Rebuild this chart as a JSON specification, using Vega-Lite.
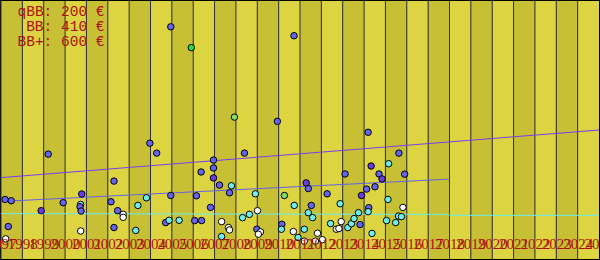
{
  "$schema": "https://vega.github.io/schema/vega-lite/v6.json",
  "width": 598,
  "height": 258,
  "padding": 1,
  "autosize": {"type": "none"},
  "background": "#000000",
  "config": {
    "view": {"stroke": null},
    "axisX": {"labelOverlap": false, "labelFlush": false, "labelBound": false, "ticks": false, "domain": false, "grid": false, "zindex": 1,
      "labelFont": "Liberation Serif", "labelFontSize": 15, "labelColor": "#aa1111", "labelBaseline": "alphabetic", "labelPadding": -11}
  },
  "datasets": {
    "bands": [
      {"start": 1997, "end": 1998, "shade": "a"}, {"start": 1998, "end": 1999, "shade": "b"},
      {"start": 1999, "end": 2000, "shade": "a"}, {"start": 2000, "end": 2001, "shade": "b"},
      {"start": 2001, "end": 2002, "shade": "a"}, {"start": 2002, "end": 2003, "shade": "b"},
      {"start": 2003, "end": 2004, "shade": "a"}, {"start": 2004, "end": 2005, "shade": "b"},
      {"start": 2005, "end": 2006, "shade": "a"}, {"start": 2006, "end": 2007, "shade": "b"},
      {"start": 2007, "end": 2008, "shade": "a"}, {"start": 2008, "end": 2009, "shade": "b"},
      {"start": 2009, "end": 2010, "shade": "a"}, {"start": 2010, "end": 2011, "shade": "b"},
      {"start": 2011, "end": 2012, "shade": "a"}, {"start": 2012, "end": 2013, "shade": "b"},
      {"start": 2013, "end": 2014, "shade": "a"}, {"start": 2014, "end": 2015, "shade": "b"},
      {"start": 2015, "end": 2016, "shade": "a"}, {"start": 2016, "end": 2017, "shade": "b"},
      {"start": 2017, "end": 2018, "shade": "a"}, {"start": 2018, "end": 2019, "shade": "b"},
      {"start": 2019, "end": 2020, "shade": "a"}, {"start": 2020, "end": 2021, "shade": "b"},
      {"start": 2021, "end": 2022, "shade": "a"}, {"start": 2022, "end": 2023, "shade": "b"},
      {"start": 2023, "end": 2024, "shade": "a"}, {"start": 2024, "end": 2025, "shade": "b"}
    ],
    "lines": [
      {"series": "qBB: 200 €", "seg": 1, "year": 1997, "value": 45.7},
      {"series": "qBB: 200 €", "seg": 1, "year": 2018, "value": 45},
      {"series": "qBB: 200 €", "seg": 2, "year": 2018, "value": 44},
      {"series": "qBB: 200 €", "seg": 2, "year": 2025, "value": 44},
      {"series": "BB: 410 €", "seg": 3, "year": 1997, "value": 58},
      {"series": "BB: 410 €", "seg": 3, "year": 2018, "value": 80.5},
      {"series": "BB+: 600 €", "seg": 4, "year": 1997, "value": 82},
      {"series": "BB+: 600 €", "seg": 4, "year": 2025, "value": 130}
    ],
    "points": [
      {"year": 2000.73, "value": 55, "cat": "C"},
      {"year": 2004.95, "value": 234, "cat": "A"},
      {"year": 2010.72, "value": 225, "cat": "A"},
      {"year": 2009.94, "value": 138.7, "cat": "A"},
      {"year": 2014.19, "value": 127.7, "cat": "A"},
      {"year": 2003.97, "value": 116.7, "cat": "A"},
      {"year": 2004.29, "value": 106.7, "cat": "A"},
      {"year": 1999.21, "value": 105.7, "cat": "A"},
      {"year": 2008.40, "value": 106.7, "cat": "A"},
      {"year": 2006.95, "value": 99.7, "cat": "A"},
      {"year": 2006.95, "value": 91.7, "cat": "A"},
      {"year": 2006.37, "value": 87.7, "cat": "A"},
      {"year": 2007.23, "value": 74.5, "cat": "A"},
      {"year": 2007.70, "value": 66.7, "cat": "A"},
      {"year": 2011.39, "value": 71, "cat": "A"},
      {"year": 2013.11, "value": 85.7, "cat": "A"},
      {"year": 2014.70, "value": 85.7, "cat": "A"},
      {"year": 2015.63, "value": 106.7, "cat": "A"},
      {"year": 2014.12, "value": 70.5, "cat": "A"},
      {"year": 2014.51, "value": 72.8, "cat": "A"},
      {"year": 2015.90, "value": 85.5, "cat": "A"},
      {"year": 2002.29, "value": 78.5, "cat": "A"},
      {"year": 1997.19, "value": 60, "cat": "A"},
      {"year": 1997.48, "value": 58.7, "cat": "A"},
      {"year": 1999.91, "value": 56.7, "cat": "A"},
      {"year": 2000.70, "value": 52.7, "cat": "A"},
      {"year": 2000.75, "value": 48.3, "cat": "A"},
      {"year": 1997.34, "value": 32.7, "cat": "A"},
      {"year": 2002.15, "value": 57.7, "cat": "A"},
      {"year": 2002.46, "value": 48.7, "cat": "A"},
      {"year": 2002.29, "value": 31.7, "cat": "A"},
      {"year": 2004.95, "value": 64, "cat": "A"},
      {"year": 2004.71, "value": 36.7, "cat": "A"},
      {"year": 2006.15, "value": 63.7, "cat": "A"},
      {"year": 2006.07, "value": 38.7, "cat": "A"},
      {"year": 2012.27, "value": 65.7, "cat": "A"},
      {"year": 2006.81, "value": 52, "cat": "A"},
      {"year": 2011.53, "value": 54, "cat": "A"},
      {"year": 2006.39, "value": 38.7, "cat": "A"},
      {"year": 2008.98, "value": 30, "cat": "A"},
      {"year": 2010.15, "value": 35, "cat": "A"},
      {"year": 2013.81, "value": 34.7, "cat": "A"},
      {"year": 2014.22, "value": 51.7, "cat": "A"},
      {"year": 2006.95, "value": 81.7, "cat": "B"},
      {"year": 2011.29, "value": 76.7, "cat": "B"},
      {"year": 2014.33, "value": 93.7, "cat": "B"},
      {"year": 2014.84, "value": 80.7, "cat": "B"},
      {"year": 1998.88, "value": 48.7, "cat": "B"},
      {"year": 2000.78, "value": 65.5, "cat": "B"},
      {"year": 2013.88, "value": 64, "cat": "B"},
      {"year": 2007.79, "value": 73.8, "cat": "C"},
      {"year": 2015.15, "value": 96, "cat": "C"},
      {"year": 2003.41, "value": 54, "cat": "C"},
      {"year": 2003.81, "value": 61.7, "cat": "C"},
      {"year": 2003.31, "value": 28.8, "cat": "C"},
      {"year": 2004.87, "value": 39, "cat": "C"},
      {"year": 2005.34, "value": 39, "cat": "C"},
      {"year": 2008.91, "value": 65.7, "cat": "C"},
      {"year": 2015.12, "value": 60, "cat": "C"},
      {"year": 2012.88, "value": 55.7, "cat": "C"},
      {"year": 2010.73, "value": 54, "cat": "C"},
      {"year": 2011.39, "value": 46.7, "cat": "C"},
      {"year": 2011.59, "value": 41.7, "cat": "C"},
      {"year": 2008.31, "value": 41.7, "cat": "C"},
      {"year": 2008.63, "value": 45, "cat": "C"},
      {"year": 2010.13, "value": 30, "cat": "C"},
      {"year": 2010.91, "value": 21.7, "cat": "C"},
      {"year": 2011.20, "value": 30, "cat": "C"},
      {"year": 2007.33, "value": 22.7, "cat": "C"},
      {"year": 2012.43, "value": 35.7, "cat": "C"},
      {"year": 2013.24, "value": 31.7, "cat": "C"},
      {"year": 2013.41, "value": 35.7, "cat": "C"},
      {"year": 2013.53, "value": 40.7, "cat": "C"},
      {"year": 2013.74, "value": 46.7, "cat": "C"},
      {"year": 2014.19, "value": 47.7, "cat": "C"},
      {"year": 2014.37, "value": 25.8, "cat": "C"},
      {"year": 2015.05, "value": 38.7, "cat": "C"},
      {"year": 2015.48, "value": 36.7, "cat": "C"},
      {"year": 2015.61, "value": 43.3, "cat": "C"},
      {"year": 2015.75, "value": 42.7, "cat": "C"},
      {"year": 1997.22, "value": 20.3, "cat": "D"},
      {"year": 2000.73, "value": 28.2, "cat": "D"},
      {"year": 2002.72, "value": 45, "cat": "D"},
      {"year": 2002.72, "value": 42, "cat": "D"},
      {"year": 2009.01, "value": 48.7, "cat": "D"},
      {"year": 2007.33, "value": 37.7, "cat": "D"},
      {"year": 2007.65, "value": 31.7, "cat": "D"},
      {"year": 2007.70, "value": 29.3, "cat": "D"},
      {"year": 2009.15, "value": 27.3, "cat": "D"},
      {"year": 2009.05, "value": 25, "cat": "D"},
      {"year": 2010.69, "value": 27.7, "cat": "D"},
      {"year": 2011.20, "value": 18, "cat": "D"},
      {"year": 2011.82, "value": 26, "cat": "D"},
      {"year": 2011.72, "value": 18, "cat": "D"},
      {"year": 2012.05, "value": 19.5, "cat": "D"},
      {"year": 2012.70, "value": 30, "cat": "D"},
      {"year": 2012.82, "value": 30.7, "cat": "D"},
      {"year": 2012.93, "value": 37.7, "cat": "D"},
      {"year": 2015.82, "value": 52, "cat": "D"},
      {"year": 2005.91, "value": 213, "cat": "E"},
      {"year": 2007.93, "value": 143, "cat": "F"},
      {"year": 2010.27, "value": 64, "cat": "F"}
    ]
  },
  "layer": [
    {
      "data": {"name": "bands"},
      "mark": {"type": "rect"},
      "encoding": {
        "x": {"field": "start", "type": "quantitative", "scale": {"domain": [1997, 2025], "nice": false, "zero": false},
          "axis": {"title": null, "format": "d", "labelOverlap": false, "zindex": 1, "values": [1997,1998,1999,2000,2001,2002,2003,2004,2005,2006,2007,2008,2009,2010,2011,2012,2013,2014,2015,2016,2017,2018,2019,2020,2021,2022,2023,2024,2025]}},
        "x2": {"field": "end"},
        "fill": {"field": "shade", "type": "nominal", "scale": {"domain": ["a", "b"], "range": ["#c8c034", "#dcd440"]}, "legend": null}
      }
    },
    {
      "data": {"name": "bands"},
      "mark": {"type": "rule", "color": "#30303c", "strokeWidth": 1},
      "encoding": {
        "x": {"field": "start", "type": "quantitative", "axis": {"title": null, "format": "d", "labelOverlap": false, "zindex": 1, "values": [1997,1998,1999,2000,2001,2002,2003,2004,2005,2006,2007,2008,2009,2010,2011,2012,2013,2014,2015,2016,2017,2018,2019,2020,2021,2022,2023,2024,2025]}}
      }
    },
    {
      "data": {"name": "lines"},
      "mark": {"type": "line", "strokeWidth": 1},
      "encoding": {
        "x": {"field": "year", "type": "quantitative", "axis": {"title": null, "format": "d", "labelOverlap": false, "zindex": 1, "values": [1997,1998,1999,2000,2001,2002,2003,2004,2005,2006,2007,2008,2009,2010,2011,2012,2013,2014,2015,2016,2017,2018,2019,2020,2021,2022,2023,2024,2025]}},
        "y": {"field": "value", "type": "quantitative", "scale": {"domain": [0, 260], "nice": false, "zero": false}, "axis": null},
        "detail": {"field": "seg", "type": "nominal"},
        "stroke": {"field": "series", "type": "nominal",
          "scale": {"domain": ["qBB: 200 €", "BB: 410 €", "BB+: 600 €"], "range": ["#66eeee", "#6262e8", "#7a3cf0"]},
          "legend": {"title": null, "orient": "none", "legendX": 89, "legendY": 4, "padding": 0, "rowPadding": 0,
            "symbolOpacity": 0, "symbolSize": 0, "symbolStrokeWidth": 0, "labelOffset": 0, "labelLimit": 0, "labelAlign": "right",
            "labelFont": "Liberation Mono", "labelFontSize": 14.5, "labelColor": "#aa1111"}}
      }
    },
    {
      "data": {"name": "points"},
      "mark": {"type": "circle", "size": 42, "stroke": "#000000", "strokeWidth": 1, "opacity": 1},
      "encoding": {
        "x": {"field": "year", "type": "quantitative", "axis": {"title": null, "format": "d", "labelOverlap": false, "zindex": 1, "values": [1997,1998,1999,2000,2001,2002,2003,2004,2005,2006,2007,2008,2009,2010,2011,2012,2013,2014,2015,2016,2017,2018,2019,2020,2021,2022,2023,2024,2025]}},
        "y": {"field": "value", "type": "quantitative", "axis": null},
        "color": {"field": "cat", "type": "nominal",
          "scale": {"domain": ["A", "B", "C", "D", "E", "F"], "range": ["#6464f0", "#6a3ce6", "#70eeee", "#ffffff", "#2edd2e", "#80dd66"]},
          "legend": null}
      }
    }
  ],
  "resolve": {"scale": {"color": "independent", "fill": "independent", "stroke": "independent"}}
}
